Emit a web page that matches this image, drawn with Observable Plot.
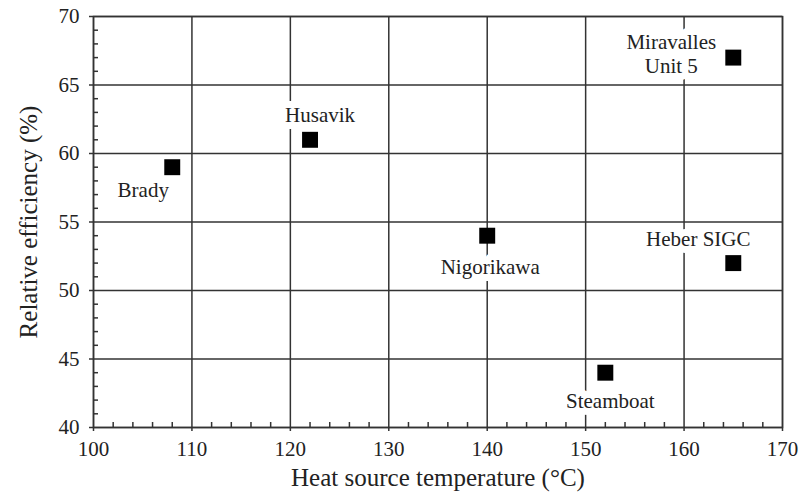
<!DOCTYPE html>
<html>
<head>
<meta charset="utf-8">
<script src="https://cdn.jsdelivr.net/npm/d3@7"></script>
<script src="https://cdn.jsdelivr.net/npm/@observablehq/plot@0.6"></script>
<style>
  html, body { margin: 0; padding: 0; background: #fff; }
</style>
</head>
<body>
<div id="chart"></div>
<script>
// ---- data ----
const plants = ["Brady", "Husavik", "Nigorikawa", "Steamboat", "Heber SIGC", "Miravalles\nUnit 5"];
const temps  = [108, 122, 140, 152, 165, 165];   // Heat source temperature (°C)
const effs   = [59, 61, 54, 44, 52, 67];          // Relative efficiency (%)
const xTicks = [100, 110, 120, 130, 140, 150, 160, 170];
const yTicks = [40, 45, 50, 55, 60, 65, 70];
const xMinor = [102,104,106,108,112,114,116,118,122,124,126,128,132,134,136,138,142,144,146,148,152,154,156,158,162,164,166,168];
const yMinor = [41,42,43,44,46,47,48,49,51,52,53,54,56,57,58,59,61,62,63,64,66,67,68,69];
const xTitle = "Heat source temperature (°C)";
const yTitle = "Relative efficiency (%)";

const rows = plants.map((name, i) => ({name, temp: temps[i], eff: effs[i]}));

// ---- label placement (pixel offsets from each point) ----
const labelOffsets = {
  "Brady": [-29, 22],
  "Husavik": [10, -25],
  "Nigorikawa": [3, 31],
  "Steamboat": [5, 28],
  "Heber SIGC": [-35, -25],
  "Miravalles\nUnit 5": [-62, -4]
};

const ink = "#333";
const textInk = "#222";
const serif = "Liberation Serif";

const labelMarks = rows.map(r => Plot.text([r], {
  x: "temp", y: "eff", text: "name",
  dx: labelOffsets[r.name][0], dy: labelOffsets[r.name][1],
  fill: textInk, stroke: "white", strokeWidth: 14, strokeLinejoin: "round",
  fontSize: 21, fontFamily: serif, lineHeight: 1.1, textAnchor: "middle"
}));

const chart = Plot.plot({
  width: 800,
  height: 499,
  marginLeft: 93,
  marginRight: 18,
  marginTop: 16,
  marginBottom: 72,
  style: {fontFamily: serif, fontSize: "21px", background: "white", color: textInk},
  x: {domain: [100, 170], label: null},
  y: {domain: [40, 70], label: null},
  marks: [
    Plot.gridX(xTicks, {stroke: ink, strokeOpacity: 1, strokeWidth: 1.5}),
    Plot.gridY(yTicks, {stroke: ink, strokeOpacity: 1, strokeWidth: 1.5}),
    Plot.axisX({ticks: xTicks, tickSize: 4, tickPadding: 10, fontSize: 21, fontFamily: serif, stroke: ink, strokeWidth: 1.5, fill: textInk, label: null}),
    Plot.axisY({ticks: yTicks, tickSize: 4, tickPadding: 10, fontSize: 21, fontFamily: serif, stroke: ink, strokeWidth: 1.5, fill: textInk, label: null}),
    Plot.axisX({ticks: xMinor, tickSize: 5, dy: -5, text: null, stroke: ink, strokeWidth: 1.5, label: null}),
    Plot.axisY({ticks: yMinor, tickSize: 5, dx: 5, text: null, stroke: ink, strokeWidth: 1.5, label: null}),
    ...labelMarks,
    Plot.frame({stroke: ink, strokeWidth: 1.5}),
    Plot.dot(rows, {x: "temp", y: "eff", symbol: "square", r: 9, fill: "black", stroke: null}),
    Plot.text([xTitle], {frameAnchor: "bottom", dy: 58, fontSize: 25, fontFamily: serif, fill: textInk, textAnchor: "middle"}),
    Plot.text([yTitle], {frameAnchor: "left", dx: -65, rotate: -90, fontSize: 25, fontFamily: serif, fill: textInk, textAnchor: "middle"})
  ]
});
document.getElementById("chart").appendChild(chart);
</script>
</body>
</html>
